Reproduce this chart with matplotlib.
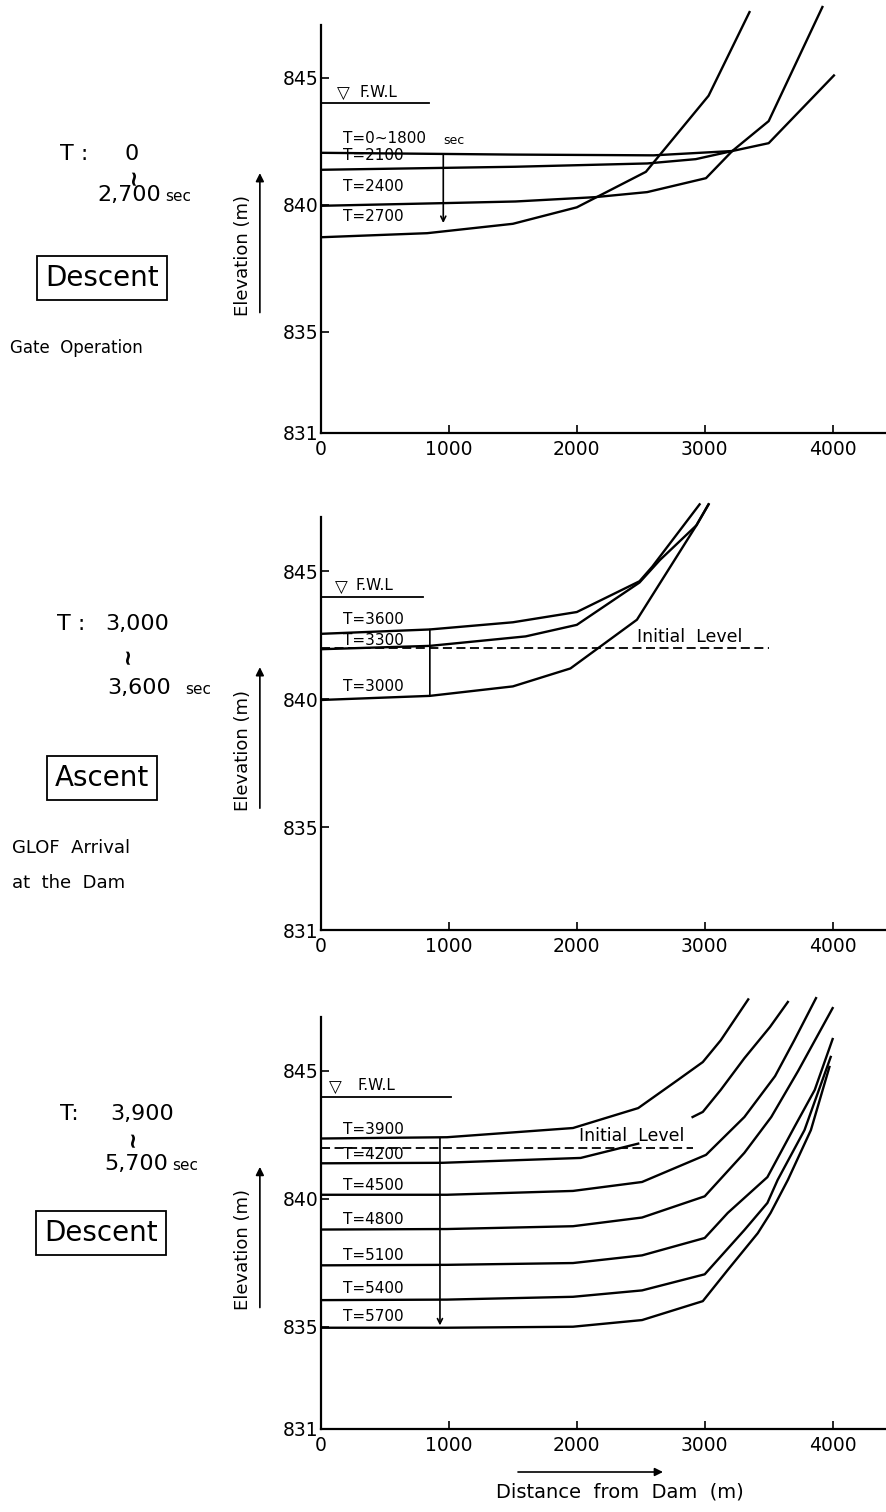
import numpy as np
import matplotlib.pyplot as plt

# ---- values: distance from dam (m) / elevation (m) ----
xtick_vals = [0, 1000, 2000, 3000, 4000]
ytick_vals = [831, 835, 840, 845]
fwl_level = 844.0
initial_level = 842.0

# panel 1 : T = 0 ~ 2,700 sec
p1_t0_1800_x = [0, 1500, 2600, 3215, 3500, 4010]
p1_t0_1800_y = [842.05, 841.98, 841.95, 842.12, 842.43, 845.1]
p1_t2100_x = [0, 1520, 2550, 2930, 3215]
p1_t2100_y = [841.38, 841.5, 841.63, 841.8, 842.12]
p1_t2400_x = [0, 1000, 1520, 2140, 2550, 3010, 3215, 3500, 3920]
p1_t2400_y = [839.96, 840.07, 840.13, 840.3, 840.5, 841.05, 842.12, 843.3, 847.8]
p1_t2700_x = [0, 830, 1500, 2000, 2540, 3030, 3350]
p1_t2700_y = [838.72, 838.88, 839.25, 839.9, 841.3, 844.3, 847.6]

# panel 2 : T = 3,000 ~ 3,600 sec
p2_t3000_x = [0, 850, 1500, 1950, 2470, 2935, 3030]
p2_t3000_y = [839.97, 840.13, 840.5, 841.2, 843.1, 846.78, 847.6]
p2_t3300_x = [0, 850, 1600, 2000, 2490, 2650, 2935, 3030]
p2_t3300_y = [841.95, 842.08, 842.45, 842.9, 844.55, 845.43, 846.78, 847.6]
p2_t3600_x = [0, 850, 1500, 2000, 2490, 2590, 2960]
p2_t3600_y = [842.55, 842.72, 843.0, 843.4, 844.6, 845.17, 847.6]

# panel 3 : T = 3,900 ~ 5,700 sec
p3_t3900_x = [0, 985, 1970, 2480, 2790, 2985, 3125, 3340]
p3_t3900_y = [842.36, 842.41, 842.77, 843.55, 844.65, 845.35, 846.2, 847.8]
p3_t4200_x = [0, 950, 2030, 2480, np.nan, 2905, 2985, 3125, 3310, 3510, 3650]
p3_t4200_y = [841.39, 841.41, 841.6, 842.16, np.nan, 843.2, 843.4, 844.26, 845.5, 846.72, 847.7]
p3_t4500_x = [0, 985, 1970, 2510, 3010, 3310, 3550, 3700, 3870]
p3_t4500_y = [840.16, 840.16, 840.31, 840.66, 841.72, 843.2, 844.8, 846.2, 847.85]
p3_t4800_x = [0, 985, 1970, 2510, 3000, 3310, 3520, 3730, 4000]
p3_t4800_y = [838.8, 838.82, 838.93, 839.27, 840.1, 841.8, 843.2, 845.0, 847.46]
p3_t5100_x = [0, 985, 1970, 2510, 3000, 3180, 3490, 3700, 3860, 4000]
p3_t5100_y = [837.4, 837.42, 837.49, 837.79, 838.47, 839.45, 840.85, 842.8, 844.26, 846.25]
p3_t5400_x = [0, 985, 1970, 2510, 3000, 3310, 3490, 3570, 3780, 3985]
p3_t5400_y = [836.04, 836.06, 836.17, 836.42, 837.05, 838.78, 839.84, 840.74, 842.69, 845.55]
p3_t5700_x = [0, 985, 1970, 2510, 2985, 3180, 3415, 3515, 3650, 3830, 3975]
p3_t5700_y = [834.96, 834.96, 835.0, 835.26, 836.0, 837.22, 838.66, 839.45, 840.74, 842.69, 845.16]

W, H = 887.0, 1512.0
fig = plt.figure(figsize=(W / 100, H / 100), dpi=100)


def ftext(x, y, s, **kw):
    # text placed in figure pixels measured from the top-left corner
    return fig.text(x / W, 1 - y / H, s, **kw)


def make_axes(y831, y845, ytop):
    ppm = (y831 - y845) / 14.0
    top = y845 - (ytop - 845) * ppm
    ax = fig.add_axes([321 / W, 1 - y831 / H, (W - 321) / W, (y831 - top) / H])
    ax.set_xlim(0, 4425)
    ax.set_ylim(831, ytop)
    for s in ['top', 'right']:
        ax.spines[s].set_visible(False)
    for s in ['left', 'bottom']:
        ax.spines[s].set_linewidth(1.6)
    ax.spines['left'].set_bounds(831, 847.1)
    ax.set_xticks(xtick_vals)
    ax.set_yticks(ytick_vals)
    ax.tick_params(direction='in', length=6, width=1.2, labelsize=13.5)
    ax.tick_params(axis='y', pad=2)
    ax.tick_params(axis='x', pad=5)
    ax.patch.set_alpha(0)
    # y axis title with its arrow
    tr = ax.get_yaxis_transform()
    ax.text(-0.138, 838, 'Elevation (m)', rotation=90, ha='center', va='center',
            fontsize=13, transform=tr)
    ax.annotate('', xy=(-0.108, 841.25), xytext=(-0.108, 835.75),
                xycoords=tr, textcoords=tr, annotation_clip=False,
                arrowprops=dict(arrowstyle='-|>', lw=1.2, color='k',
                                mutation_scale=12, shrinkA=0, shrinkB=0))
    return ax


def fwl(ax, x_end, tri_x, txt_x):
    ax.plot([0, x_end], [fwl_level, fwl_level], color='k', lw=1.3)
    ax.text(tri_x, fwl_level + 0.0, '\u25bd', ha='center', va='bottom', fontsize=12)
    ax.text(txt_x, fwl_level + 0.15, 'F.W.L', ha='left', va='bottom', fontsize=11)


def curves(ax, series):
    for x, y in series:
        ax.plot(x, y, color='k', lw=1.7, solid_joinstyle='round')


def tlabels(ax, labels, x0=175, fs=11):
    for s, y in labels:
        ax.text(x0, y, s, ha='left', va='center', fontsize=fs)


def time_arrow(ax, x, y_top, y_bot, head=True):
    style = '->' if head else '-'
    ax.annotate('', xy=(x, y_bot), xytext=(x, y_top),
                arrowprops=dict(arrowstyle=style, lw=1.2, color='k',
                                mutation_scale=9, shrinkA=0, shrinkB=0))


def boxed(x, y, s):
    ftext(x, y, s, ha='center', va='center', fontsize=20,
          bbox=dict(boxstyle='square,pad=0.3', fc='white', ec='k', lw=1.3))


def squiggle(x, y):
    # the vertical "~" meaning "to" between the two times
    ftext(x, y, '~', rotation=90, ha='center', va='center', fontsize=15,
          fontweight='bold')


# ---------------- panel 1 ----------------
ax1 = make_axes(433, 78, 848.0)
curves(ax1, [(p1_t0_1800_x, p1_t0_1800_y), (p1_t2100_x, p1_t2100_y),
             (p1_t2400_x, p1_t2400_y), (p1_t2700_x, p1_t2700_y)])
fwl(ax1, 845, 175, 300)
ax1.text(175, 842.62, 'T=0~1800', ha='left', va='center', fontsize=11)
ax1.text(1120, 842.55, 'sec', ha='right', va='center', fontsize=9)
tlabels(ax1, [('T=2100', 841.95), ('T=2400', 840.72), ('T=2700', 839.54)])
time_arrow(ax1, 956, 841.98, 839.28)

ftext(60, 160, 'T :', fontsize=16, va='baseline')
ftext(125, 160, '0', fontsize=16, va='baseline')
squiggle(134, 176)
ftext(97, 201, '2,700', fontsize=16, va='baseline')
ftext(165, 201, 'sec', fontsize=11, va='baseline')
boxed(102, 278, 'Descent')
ftext(10, 348, 'Gate  Operation', fontsize=12, va='center')

# ---------------- panel 2 ----------------
ax2 = make_axes(930, 571, 848.0)
ax2.plot([0, 3506], [initial_level, initial_level], color='k', lw=1.3,
         ls=(0, (5, 2.5)))
curves(ax2, [(p2_t3000_x, p2_t3000_y), (p2_t3300_x, p2_t3300_y),
             (p2_t3600_x, p2_t3600_y)])
fwl(ax2, 800, 160, 270)
tlabels(ax2, [('T=3600', 843.09), ('T=3300', 842.3), ('T=3000', 840.5)])
time_arrow(ax2, 851, 842.72, 840.13, head=False)
ax2.text(2470, 842.42, 'Initial  Level', ha='left', va='center', fontsize=12.5)

ftext(57, 630, 'T :', fontsize=16, va='baseline')
ftext(105, 630, '3,000', fontsize=16, va='baseline')
squiggle(128, 655)
ftext(107, 694, '3,600', fontsize=16, va='baseline')
ftext(185, 694, 'sec', fontsize=11, va='baseline')
boxed(102, 778, 'Ascent')
ftext(12, 848, 'GLOF  Arrival', fontsize=13, va='center')
ftext(12, 883, 'at  the  Dam', fontsize=13, va='center')

# ---------------- panel 3 ----------------
ax3 = make_axes(1429, 1071, 848.3)
ax3.plot([0, 2905], [initial_level, initial_level], color='k', lw=1.3,
         ls=(0, (5, 2.5)))
curves(ax3, [(p3_t3900_x, p3_t3900_y), (p3_t4200_x, p3_t4200_y),
             (p3_t4500_x, p3_t4500_y), (p3_t4800_x, p3_t4800_y),
             (p3_t5100_x, p3_t5100_y), (p3_t5400_x, p3_t5400_y),
             (p3_t5700_x, p3_t5700_y)])
fwl(ax3, 1016, 111, 286)
tlabels(ax3, [('T=3900', 842.71), ('T=4200', 841.74), ('T=4500', 840.51),
              ('T=4800', 839.2), ('T=5100', 837.79), ('T=5400', 836.49),
              ('T=5700', 835.39)])
time_arrow(ax3, 930, 842.38, 835.05)
ax3.text(2016, 842.45, 'Initial  Level', ha='left', va='center', fontsize=12.5)

ftext(60, 1120, 'T:', fontsize=16, va='baseline')
ftext(110, 1120, '3,900', fontsize=16, va='baseline')
squiggle(133, 1138)
ftext(104, 1170, '5,700', fontsize=16, va='baseline')
ftext(172, 1170, 'sec', fontsize=11, va='baseline')
boxed(101, 1233, 'Descent')

# x axis title with arrow
ftext(620, 1492, 'Distance  from  Dam  (m)', ha='center', va='center', fontsize=14)
ax3.annotate('', xy=(663 / W, 1 - 1472 / H), xytext=(518 / W, 1 - 1472 / H),
             xycoords='figure fraction', textcoords='figure fraction',
             arrowprops=dict(arrowstyle='-|>', lw=1.2, color='k',
                             mutation_scale=12, shrinkA=0, shrinkB=0))

fig.savefig('out.png', dpi=100)
